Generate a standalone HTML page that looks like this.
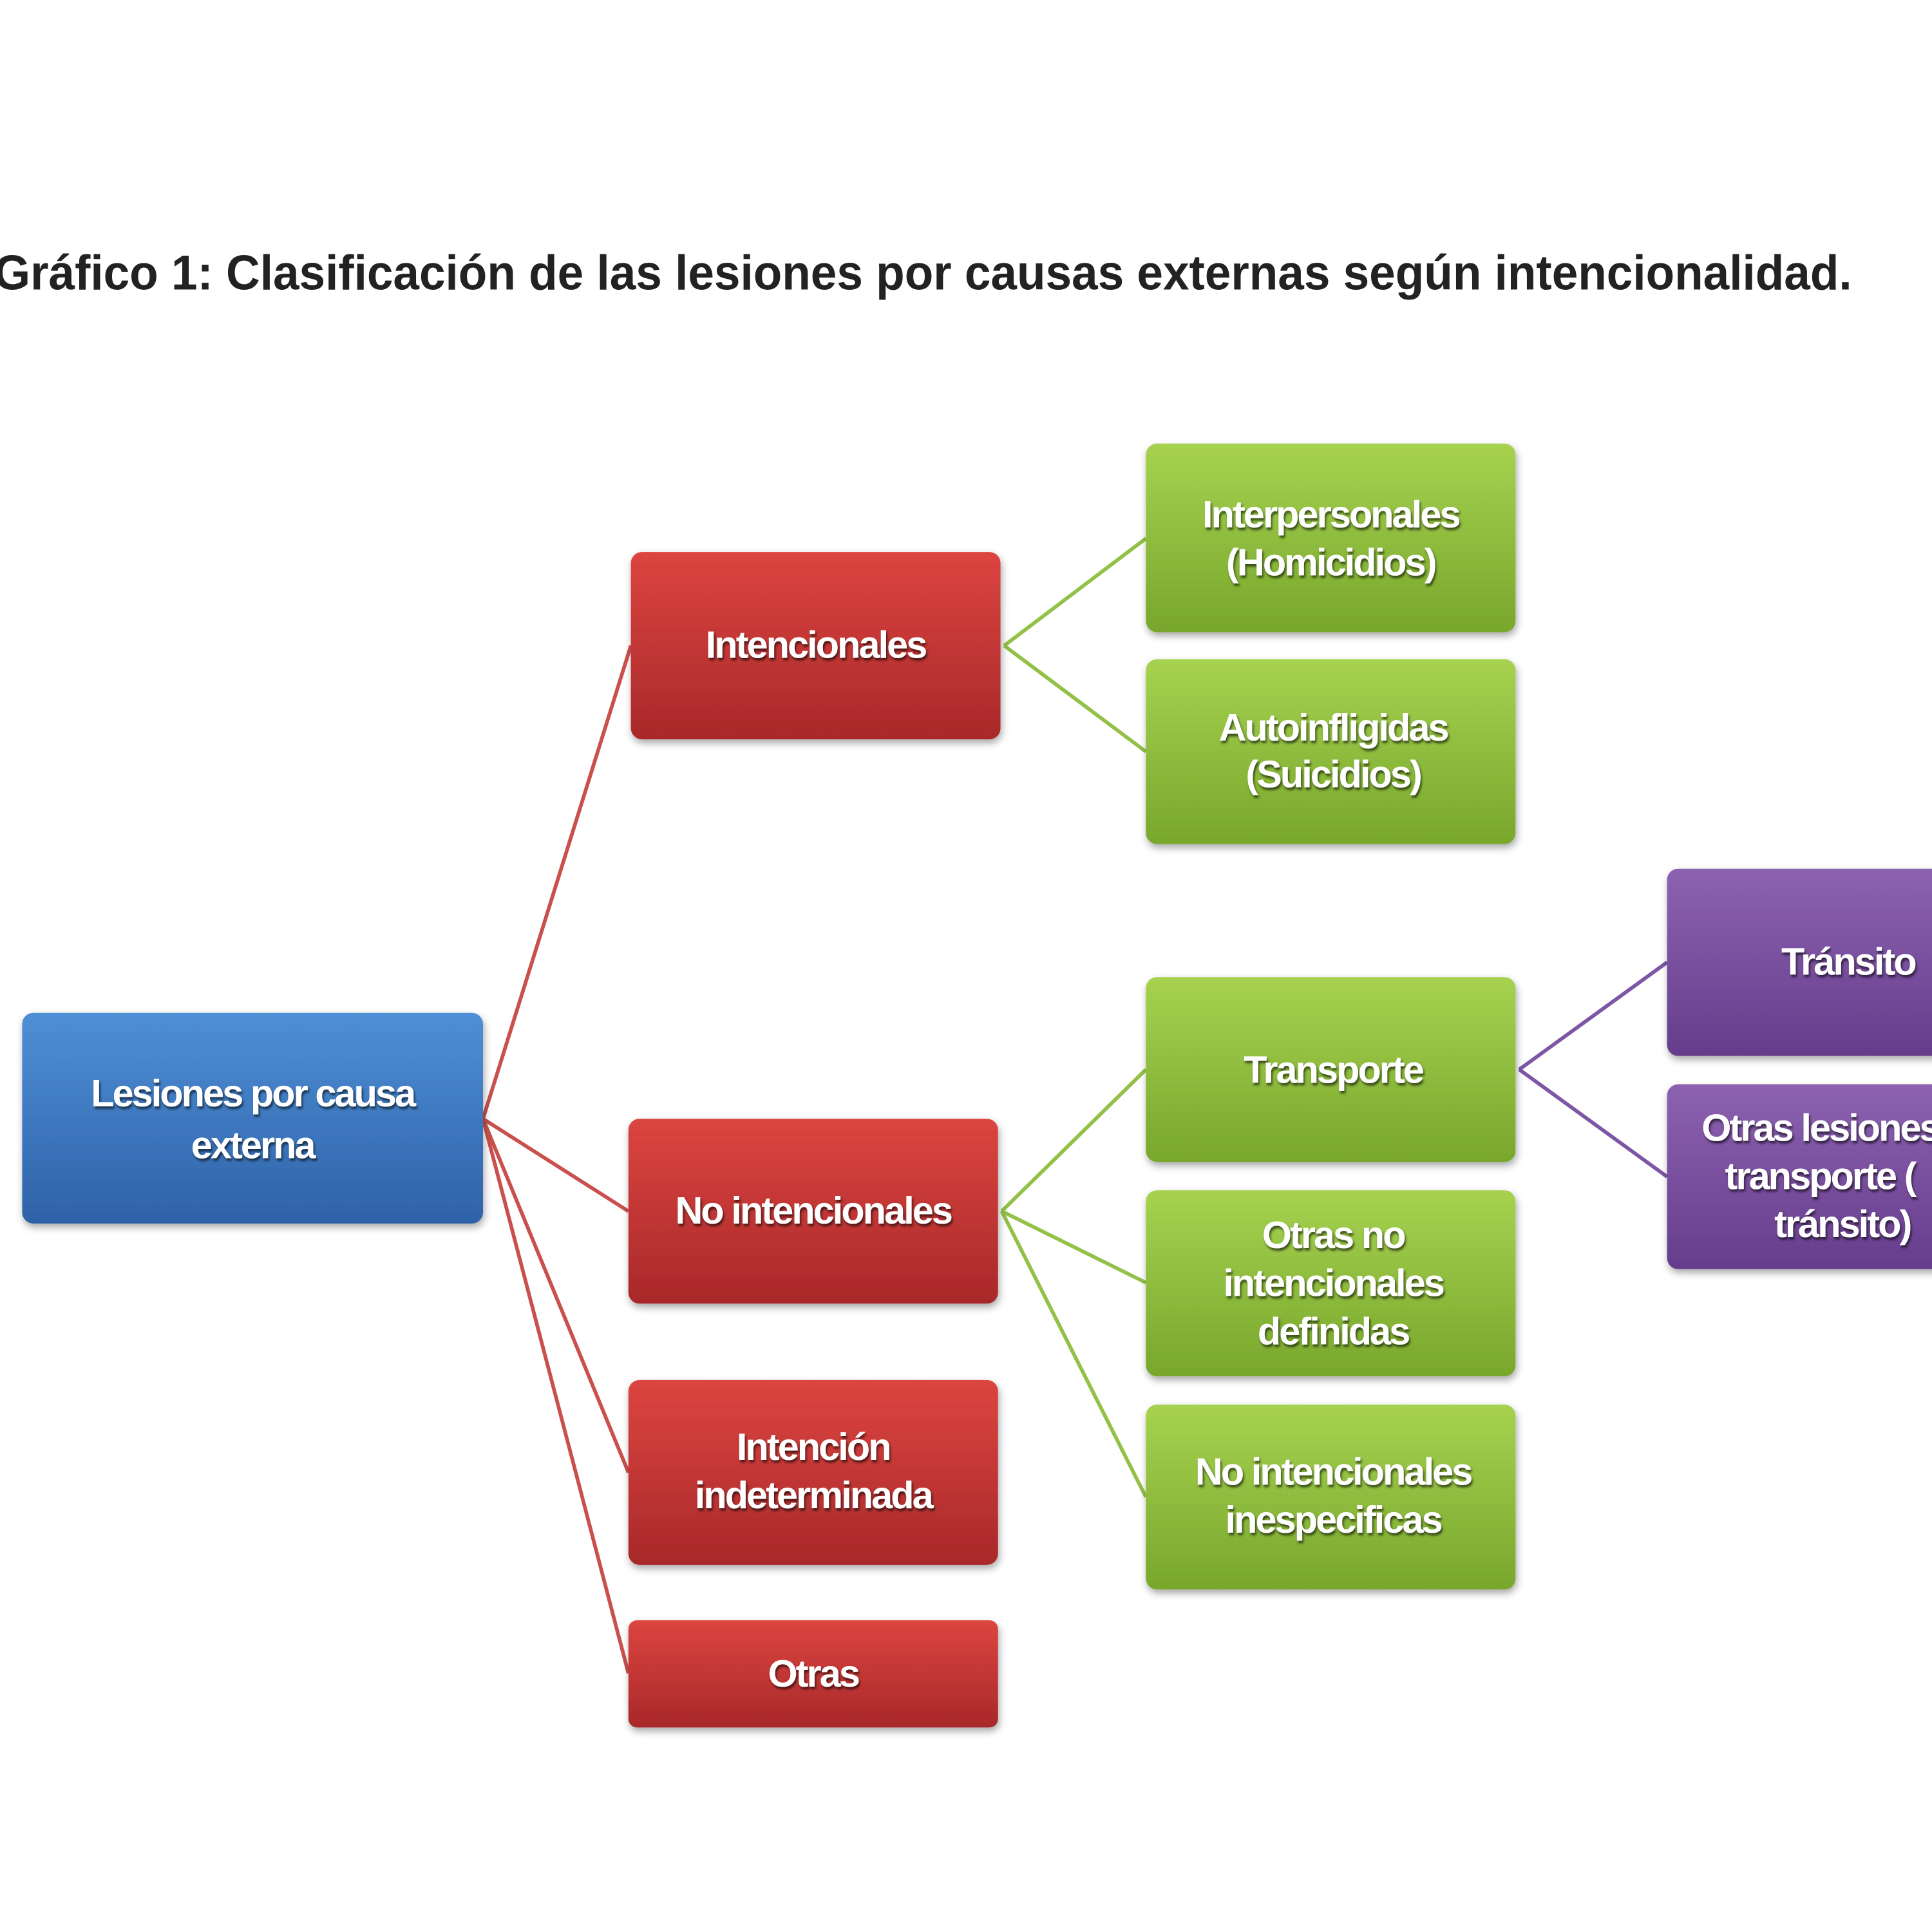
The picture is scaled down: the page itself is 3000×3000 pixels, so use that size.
<!DOCTYPE html>
<html><head><meta charset="utf-8"><style>
html,body{margin:0;padding:0;background:#fff;width:3000px;height:3000px;overflow:hidden}
svg{display:block}
.t{font-family:"Liberation Sans Narrow","Liberation Sans",sans-serif;font-weight:bold;font-size:31px;fill:#fff;text-anchor:middle;letter-spacing:-1.5px}
.sh{fill:#000;opacity:.35}
</style></head><body>
<svg width="3000" height="3000" viewBox="0 0 1568 1568" xmlns="http://www.w3.org/2000/svg">
<defs>
<linearGradient id="gb" x1="0" y1="0" x2="0" y2="1"><stop offset="0" stop-color="#4f8fd6"/><stop offset="1" stop-color="#2e62a8"/></linearGradient>
<linearGradient id="gr" x1="0" y1="0" x2="0" y2="1"><stop offset="0" stop-color="#dc4540"/><stop offset="1" stop-color="#a8282a"/></linearGradient>
<linearGradient id="gg" x1="0" y1="0" x2="0" y2="1"><stop offset="0" stop-color="#a6d250"/><stop offset="1" stop-color="#78a72c"/></linearGradient>
<linearGradient id="gp" x1="0" y1="0" x2="0" y2="1"><stop offset="0" stop-color="#8c62b0"/><stop offset="1" stop-color="#653d8c"/></linearGradient>
<filter id="ds" x="-10%" y="-10%" width="130%" height="140%"><feDropShadow dx="1" dy="3" stdDeviation="3" flood-opacity=".35"/></filter>
<filter id="ts"><feDropShadow dx="1" dy="2" stdDeviation="1" flood-opacity=".6"/></filter>
</defs>
<text x="-5" y="235" font-family="'Liberation Sans Narrow','Liberation Sans',sans-serif" font-weight="bold" font-size="40" fill="#222" textLength="1508" lengthAdjust="spacingAndGlyphs">Gráfico 1: Clasificación de las lesiones por causas externas según intencionalidad.</text>
<g stroke="#c9504d" stroke-width="3" fill="none">
<line x1="392" y1="908" x2="512" y2="524"/><line x1="392" y1="908" x2="510" y2="983"/>
<line x1="392" y1="908" x2="510" y2="1195"/><line x1="392" y1="908" x2="510" y2="1358"/>
</g>
<g stroke="#93c047" stroke-width="3" fill="none">
<line x1="815" y1="524" x2="930" y2="437"/><line x1="815" y1="524" x2="930" y2="610"/>
<line x1="813" y1="983" x2="930" y2="868"/><line x1="813" y1="983" x2="930" y2="1041"/><line x1="813" y1="983" x2="930" y2="1215"/>
</g>
<g stroke="#7d56a5" stroke-width="3" fill="none">
<line x1="1233" y1="868" x2="1353" y2="781"/><line x1="1233" y1="868" x2="1353" y2="955"/>
</g>
<g filter="url(#ds)">
<rect x="18" y="822" width="374" height="171" rx="9" fill="url(#gb)"/>
<rect x="512" y="448" width="300" height="152" rx="9" fill="url(#gr)"/>
<rect x="510" y="908" width="300" height="150" rx="9" fill="url(#gr)"/>
<rect x="510" y="1120" width="300" height="150" rx="9" fill="url(#gr)"/>
<rect x="510" y="1315" width="300" height="87" rx="7" fill="url(#gr)"/>
<rect x="930" y="360" width="300" height="153" rx="9" fill="url(#gg)"/>
<rect x="930" y="535" width="300" height="150" rx="9" fill="url(#gg)"/>
<rect x="930" y="793" width="300" height="150" rx="9" fill="url(#gg)"/>
<rect x="930" y="966" width="300" height="151" rx="9" fill="url(#gg)"/>
<rect x="930" y="1140" width="300" height="150" rx="9" fill="url(#gg)"/>
<rect x="1353" y="705" width="240" height="152" rx="9" fill="url(#gp)"/>
<rect x="1353" y="880" width="240" height="150" rx="9" fill="url(#gp)"/>
</g>
<g class="t" filter="url(#ts)">
<text x="205" y="898" class="t">Lesiones por causa</text><text x="205" y="940" class="t">externa</text>
<text x="662" y="534" class="t">Intencionales</text>
<text x="660" y="993" class="t">No intencionales</text>
<text x="660" y="1185" class="t">Intención</text><text x="660" y="1224" class="t">indeterminada</text>
<text x="660" y="1369" class="t">Otras</text>
<text x="1080" y="428" class="t">Interpersonales</text><text x="1080" y="467" class="t">(Homicidios)</text>
<text x="1082" y="601" class="t">Autoinfligidas</text><text x="1082" y="639" class="t">(Suicidios)</text>
<text x="1082" y="879" class="t">Transporte</text>
<text x="1082" y="1013" class="t">Otras no</text><text x="1082" y="1052" class="t">intencionales</text><text x="1082" y="1091" class="t">definidas</text>
<text x="1082" y="1205" class="t">No intencionales</text><text x="1082" y="1244" class="t">inespecificas</text>
<text x="1500" y="791" class="t">Tránsito</text>
<text x="1473" y="926" class="t" text-anchor="start" style="text-anchor:start" dx="-92">Otras lesiones</text>
<text x="1400" y="965" class="t" style="text-anchor:start">transporte (</text>
<text x="1440" y="1004" class="t" style="text-anchor:start">tránsito)</text>
</g>
</svg>
</body></html>
